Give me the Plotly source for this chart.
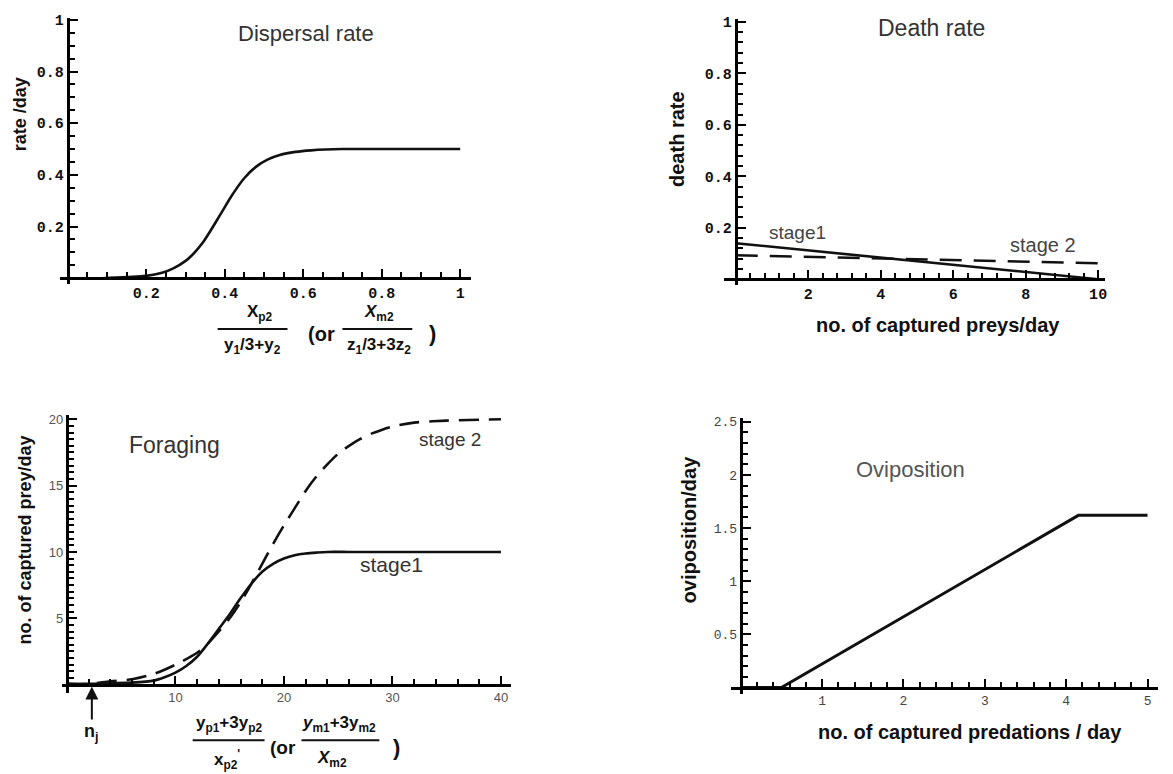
import plotly.graph_objects as go

W, H = 1173, 774

# ---- Dispersal rate ----
disp_x = [0.0, 0.1, 0.2, 0.24, 0.27, 0.3, 0.315, 0.33, 0.345, 0.36, 0.39, 0.42, 0.45, 0.48, 0.51, 0.54, 0.58,
          0.62, 0.7, 0.8, 1.0]
disp_y = [0.0, 0.001, 0.009, 0.021, 0.039, 0.067, 0.087, 0.112, 0.14, 0.175, 0.25, 0.325, 0.388, 0.432, 0.46,
          0.477, 0.489, 0.495, 0.5, 0.5, 0.5]
disp_xticks = [0.2, 0.4, 0.6, 0.8, 1.0]
disp_xlabels = ["0.2", "0.4", "0.6", "0.8", "1"]
disp_yticks = [0.2, 0.4, 0.6, 0.8, 1.0]
disp_ylabels = ["0.2", "0.4", "0.6", "0.8", "1"]

# ---- Death rate ----
death_x = [0, 10]
death_stage1 = [0.14, 0.0]
death_stage2 = [0.093, 0.062]
death_xticks = [2, 4, 6, 8, 10]
death_xlabels = ["2", "4", "6", "8", "10"]
death_yticks = [0.2, 0.4, 0.6, 0.8, 1.0]
death_ylabels = ["0.2", "0.4", "0.6", "0.8", "1"]

# ---- Foraging ----
forage_x1 = [0, 2, 4, 6, 8, 9, 10, 11, 12, 13, 14, 15, 16, 17, 18, 19, 20, 21, 22, 23, 24, 26, 30, 40]
forage_stage1 = [0.05, 0.05, 0.1, 0.15, 0.3, 0.55, 0.9, 1.4, 2.1, 3.1, 4.2, 5.3, 6.5, 7.6, 8.5, 9.1, 9.5,
                 9.75, 9.88, 9.95, 10.0, 10.0, 10.0, 10.0]
forage_x2 = [0, 2, 4, 6, 8, 10, 12, 13, 14, 15, 16, 17, 18, 19, 20, 21, 22, 23, 24, 25, 26, 27, 28, 29, 30,
             32, 35, 40]
forage_stage2 = [0.05, 0.05, 0.25, 0.4, 0.8, 1.5, 2.4, 3.1, 4.0, 5.0, 6.2, 7.6, 9.1, 10.6, 12.0, 13.3, 14.6,
                 15.7, 16.6, 17.4, 18.0, 18.5, 18.9, 19.2, 19.45, 19.75, 19.9, 20.0]
forage_nj = 2.3
forage_xticks = [10, 20, 30, 40]
forage_xlabels = ["10", "20", "30", "40"]
forage_yticks = [5, 10, 15, 20]
forage_ylabels = ["5", "10", "15", "20"]

# ---- Oviposition ----
ovi_x = [0, 0.5, 4.15, 5.0]
ovi_y = [0, 0, 1.62, 1.62]
ovi_xticks = [1, 2, 3, 4, 5]
ovi_xlabels = ["1", "2", "3", "4", "5"]
ovi_yticks = [0.5, 1.0, 1.5, 2.0, 2.5]
ovi_ylabels = ["0.5", "1", "1.5", "2", "2.5"]

MONO = "Liberation Mono, DejaVu Sans Mono, monospace"
SANS = "Liberation Sans, Arial, sans-serif"
NARROW = "Liberation Sans Narrow, Liberation Sans, Arial, sans-serif"


def px(x):
    return x / W


def py(y):
    return 1 - y / H


def steps(lo, hi, d):
    n0 = int(lo / d) + 1
    n1 = int(hi / d)
    return [round(k * d, 6) for k in range(max(n0, 1), n1 + 1)]


def axes_pair(origin, scale, box, xt, xl, yt, yl, xminor, yminor, tickfont):
    """Axes crossing at the data origin, Mathematica style."""
    ox, oy = origin
    sx, sy = scale
    l, r, t, b = box
    xr = [(l - ox) / sx, (r - ox) / sx]
    yr = [(oy - b) / sy, (oy - t) / sy]
    common = dict(showline=True, linecolor="black", linewidth=3, ticks="inside", ticklen=8,
                  tickwidth=2, tickcolor="black", tickmode="array", showgrid=False,
                  zeroline=False, tickfont=tickfont, fixedrange=True, anchor="free")
    minor = dict(ticks="inside", ticklen=5, tickwidth=2, tickcolor="black",
                 tickmode="array", showgrid=False)
    xa = dict(common, domain=[px(l), px(r)], range=xr, position=py(oy), tickvals=xt, ticktext=xl,
              side="bottom", minor=dict(minor, tickvals=steps(0, xr[1], xminor)))
    ya = dict(common, domain=[py(b), py(t)], range=yr, position=px(ox), tickvals=yt, ticktext=yl,
              side="left", minor=dict(minor, tickvals=steps(0, yr[1], yminor)))
    return xa, ya


fig = go.Figure()

line = dict(color="#111111", width=2.6)

fig.add_trace(go.Scatter(x=disp_x, y=disp_y, mode="lines", line=dict(line, shape="spline", smoothing=1.0),
                         xaxis="x", yaxis="y", showlegend=False, hoverinfo="skip"))
fig.add_trace(go.Scatter(x=death_x, y=death_stage1, mode="lines", line=line,
                         xaxis="x2", yaxis="y2", showlegend=False, hoverinfo="skip"))
fig.add_trace(go.Scatter(x=death_x, y=death_stage2, mode="lines", line=dict(line, dash="22px,12px"),
                         xaxis="x2", yaxis="y2", showlegend=False, hoverinfo="skip"))
fig.add_trace(go.Scatter(x=forage_x2, y=forage_stage2, mode="lines",
                         line=dict(line, dash="20px,10px", shape="spline", smoothing=0.8),
                         xaxis="x3", yaxis="y3", showlegend=False, hoverinfo="skip"))
fig.add_trace(go.Scatter(x=forage_x1, y=forage_stage1, mode="lines",
                         line=dict(line, shape="spline", smoothing=0.8),
                         xaxis="x3", yaxis="y3", showlegend=False, hoverinfo="skip"))
fig.add_trace(go.Scatter(x=ovi_x, y=ovi_y, mode="lines", line=dict(line, width=3),
                         xaxis="x4", yaxis="y4", showlegend=False, hoverinfo="skip"))

bold_mono = dict(family=MONO, size=15, color="#111111", weight="bold")
x1, y1 = axes_pair((68, 275), (393, 260), (60, 472, 13, 281), disp_xticks, disp_xlabels,
                   disp_yticks, disp_ylabels, 0.05, 0.05, bold_mono)
x2, y2 = axes_pair((737, 276), (36.3, 259), (725, 1107, 14, 282), death_xticks, death_xlabels,
                   death_yticks, death_ylabels, 0.4, 0.04, bold_mono)
x3, y3 = axes_pair((67, 684), (10.87, 13.35), (62, 512, 413, 692), forage_xticks, forage_xlabels,
                   forage_yticks, forage_ylabels, 2, 0.5, dict(family=SANS, size=13, color="#555555"))
x4, y4 = axes_pair((742, 687), (81.5, 107), (732, 1160, 416, 693), ovi_xticks, ovi_xlabels,
                   ovi_yticks, ovi_ylabels, 0.2, 0.1, dict(family=MONO, size=13, color="#444444"))

annotations = []
shapes = []


def label(text, x, y, size, color="#111111", family=SANS, angle=0, anchor="center"):
    annotations.append(dict(text=text, x=px(x), y=py(y), xref="paper", yref="paper",
                            xanchor=anchor, yanchor="middle", showarrow=False, textangle=angle,
                            font=dict(family=family, size=size, color=color)))


def bar(xa, xb, y):
    shapes.append(dict(type="line", xref="paper", yref="paper", x0=px(xa), x1=px(xb),
                       y0=py(y), y1=py(y), line=dict(color="#111111", width=2)))


# panel titles and curve labels
label("Dispersal rate", 307, 29, 22, "#333333")
label("Death rate", 933, 23, 23, "#333333", NARROW)
label("stage1", 799, 229, 19, "#444444")
label("stage 2", 1045, 242, 20, "#444444")
label("Foraging", 175, 443, 23, "#333333")
label("stage 2", 451, 437, 19, "#333333")
label("stage1", 392, 563, 21, "#333333")
label("Oviposition", 912, 468, 22, "#555555")

# axis titles
label("<b>rate /day</b>", 20, 110, 18, angle=-90)
label("<b>death rate</b>", 678, 135, 20, angle=-90)
label("<b>no. of captured prey/day</b>", 25, 538, 18, angle=-90)
label("<b>oviposition/day</b>", 690, 528, 20, angle=-90)
label("<b>no. of captured preys/day</b>", 940, 322, 20)
label("<b>no. of captured predations / day</b>", 972, 732, 20)

# dispersal x title: ratio (or alternative ratio)
label("<b>X<sub>p2</sub></b>", 260, 310, 17)
bar(218, 288, 326)
label("<b>y<sub>1</sub>/3+y<sub>2</sub></b>", 253, 343, 17)
label("<b>(or</b>", 322, 331, 20)
label("<b><i>X</i><sub>m2</sub></b>", 380, 310, 17)
bar(343, 413, 326)
label("<b>z<sub>1</sub>/3+3z<sub>2</sub></b>", 380, 343, 17)
label("<b>)</b>", 433, 331, 22)

# foraging x title
label("<b>y<sub>p1</sub>+3y<sub>p2</sub></b>", 229, 724, 17)
bar(193, 265, 740)
label("<b>x<sub>p2</sub><sup>'</sup></b>", 227, 759, 17)
label("<b>(or</b>", 283, 747, 19)
label("<b><i>y</i><sub>m1</sub>+3y<sub>m2</sub></b>", 340, 724, 17)
bar(302, 380, 740)
label("<b><i>X</i><sub>m2</sub></b>", 333, 759, 17)
label("<b>)</b>", 397, 747, 22)

# threshold marker on the foraging axis
annotations.append(dict(text="<b>n<sub>j</sub></b>", x=forage_nj, y=0, xref="x3", yref="y3",
                        showarrow=True, ax=0, ay=48, arrowhead=2, arrowsize=1.3, arrowwidth=2,
                        arrowcolor="#111111", standoff=2,
                        font=dict(family=SANS, size=18, color="#111111")))

fig.update_layout(
    width=W, height=H, margin=dict(l=0, r=0, t=0, b=0),
    paper_bgcolor="white", plot_bgcolor="white",
    xaxis=x1, yaxis=y1, xaxis2=x2, yaxis2=y2, xaxis3=x3, yaxis3=y3, xaxis4=x4, yaxis4=y4,
    annotations=annotations, shapes=shapes, showlegend=False,
)

fig.write_html("out.html")
